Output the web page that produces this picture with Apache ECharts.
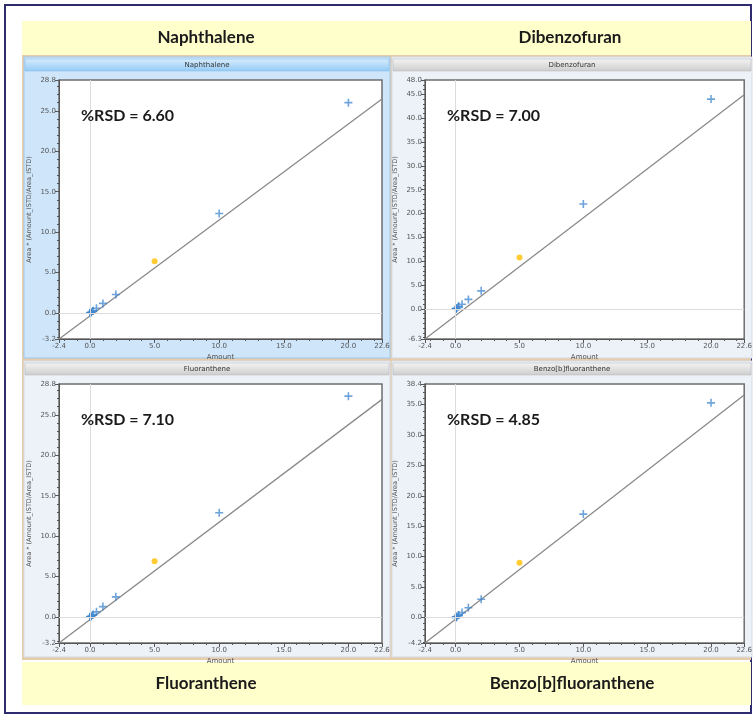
<!DOCTYPE html>
<html>
<head>
<meta charset="utf-8">
<title>Calibration curves</title>
<script src="https://cdn.jsdelivr.net/npm/echarts@6/dist/echarts.min.js"></script>
<style>
  html, body { margin: 0; padding: 0; background: #ffffff; }
  #chart { width: 755px; height: 718px; }
</style>
</head>
<body>
<div id="chart"></div>
<script>
// Compounds and their relative standard deviation of response factors
const compounds = ['Naphthalene', 'Dibenzofuran', 'Fluoranthene', 'Benzo[b]fluoranthene'];
const rsdValues = ['6.60', '7.00', '7.10', '4.85'];

// Calibration levels (amount) shared by all compounds
const calAmounts = [0.005, 0.01, 0.02, 0.05, 0.1, 0.2, 0.25, 0.5, 1, 2, 10, 20];

// Normalised responses: Area * (Amount_ISTD / Area_ISTD)
const naphthaleneResp = [0.006, 0.012, 0.025, 0.06, 0.12, 0.25, 0.3, 0.6, 1.2, 2.3, 12.3, 26.0];
const dibenzofuranResp = [0.01, 0.02, 0.05, 0.1, 0.2, 0.45, 0.55, 1.0, 2.0, 3.8, 22.0, 44.0];
const fluorantheneResp = [0.006, 0.012, 0.025, 0.06, 0.12, 0.25, 0.32, 0.65, 1.3, 2.5, 12.9, 27.3];
const benzoBFluorResp = [0.008, 0.016, 0.035, 0.08, 0.16, 0.35, 0.42, 0.8, 1.6, 3.0, 17.0, 35.3];

// Check standard at amount 5.0
const checkAmount = 5;
const checkResp = [6.4, 10.8, 6.9, 9.0];

// Fitted calibration lines as end points [amount, response]
const naphthaleneFit = [[-2.4, -3.2], [22.6, 26.45]];
const dibenzofuranFit = [[-2.4, -6.3], [22.6, 44.9]];
const fluorantheneFit = [[-2.4, -3.2], [22.6, 26.9]];
const benzoBFluorFit = [[-2.4, -4.2], [22.6, 36.6]];

// Axis ranges and tick labels
const xRange = [-2.4, 22.6];
const xTickLabels = [-2.4, 0, 5, 10, 15, 20, 22.6];
const yRanges = [[-3.2, 28.8], [-6.3, 48.0], [-3.2, 28.8], [-4.2, 38.4]];
const yTickLabels = [
  [-3.2, 0, 5, 10, 15, 20, 25, 28.8],
  [-6.3, 0, 5, 10, 15, 20, 25, 30, 35, 40, 45, 48.0],
  [-3.2, 0, 5, 10, 15, 20, 25, 28.8],
  [-4.2, 0, 5, 10, 15, 20, 25, 30, 35, 38.4]
];

const responses = [naphthaleneResp, dibenzofuranResp, fluorantheneResp, benzoBFluorResp];
const fits = [naphthaleneFit, dibenzofuranFit, fluorantheneFit, benzoBFluorFit];

// Panel geometry
const plotW = 323, plotH = 259;
const plotLeft = [59, 425, 59, 425];
const plotTop = [80, 80, 384, 384];
const panelX = [24, 392, 24, 392];
const panelY = [57, 57, 361, 361];
const panelW = [366, 360, 366, 360];
const panelH = [301, 301, 296, 296];

const chart = echarts.init(document.getElementById('chart'), null, { renderer: 'canvas' });

const plusPath = 'path://M4,0H6V4H10V6H6V10H4V6H0V4H4Z';
const fmt1 = v => Number(v).toFixed(1);

function integerSteps(a, b) {
  const out = [];
  for (let v = Math.ceil(a); v <= Math.floor(b); v++) out.push(v);
  return out;
}

const grids = [], xAxes = [], yAxes = [], series = [], graphics = [];

// outer frame and title bands
graphics.push(
  { type: 'rect', shape: { x: 5, y: 5, width: 746, height: 708 }, style: { fill: '#ffffff', stroke: '#2e2b6e', lineWidth: 2 }, z: -10 },
  { type: 'rect', shape: { x: 22, y: 21, width: 729, height: 34 }, style: { fill: '#ffffcc' }, z: -9 },
  { type: 'rect', shape: { x: 22, y: 662, width: 729, height: 43 }, style: { fill: '#ffffcc' }, z: -9 },
  { type: 'rect', shape: { x: 22, y: 55, width: 729, height: 605 }, style: { fill: '#e6ccaa' }, z: -9 }
);

const bandTitles = [
  { text: compounds[0], x: 206, y: 38 },
  { text: compounds[1], x: 570, y: 38 },
  { text: compounds[2], x: 206, y: 684 },
  { text: compounds[3], x: 572, y: 684 }
];
bandTitles.forEach(t => graphics.push({
  type: 'text', x: t.x, y: t.y, z: 5,
  style: { text: t.text, fill: '#1a1a1a', font: 'bold 17px Lato, "Open Sans", sans-serif', align: 'center', verticalAlign: 'middle' }
}));

for (let i = 0; i < 4; i++) {
  const selected = i === 0;
  // panel background
  graphics.push({
    type: 'rect', z: -8,
    shape: { x: panelX[i], y: panelY[i], width: panelW[i], height: panelH[i] },
    style: { fill: selected ? '#cfe6fa' : '#edf2f9', stroke: selected ? '#9cc9ef' : '#d5dbe3', lineWidth: 1 }
  });
  // panel header bar
  graphics.push({
    type: 'rect', z: -7,
    shape: { x: panelX[i] + 1, y: panelY[i] + 2, width: panelW[i] - 2, height: 12 },
    style: {
      fill: new echarts.graphic.LinearGradient(0, 0, 0, 1, selected
        ? [{ offset: 0, color: '#d8ecfd' }, { offset: 1, color: '#94cbf5' }]
        : [{ offset: 0, color: '#f4f4f4' }, { offset: 1, color: '#cdcdcd' }]),
      stroke: selected ? '#7fb7e6' : '#b5b5b5', lineWidth: 0.5
    }
  });
  graphics.push({
    type: 'text', z: -6, x: panelX[i] + panelW[i] / 2, y: panelY[i] + 8,
    style: { text: compounds[i], fill: '#333', font: '7px "DejaVu Sans", sans-serif', align: 'center', verticalAlign: 'middle' }
  });
  // %RSD annotation
  graphics.push({
    type: 'text', z: 10, x: plotLeft[i] + 22, y: plotTop[i] + 36,
    style: { text: '%RSD = ' + rsdValues[i], fill: '#1a1a1a', font: 'bold 16px Lato, "Open Sans", sans-serif', verticalAlign: 'middle' }
  });

  grids.push({
    left: plotLeft[i], top: plotTop[i], width: plotW, height: plotH,
    show: true, backgroundColor: '#ffffff', borderColor: '#6e6e6e', borderWidth: 1.5
  });

  const axisLabelStyle = { fontSize: 7, color: '#555', fontFamily: '"DejaVu Sans", sans-serif', formatter: fmt1 };

  // major x axis
  xAxes.push({
    type: 'value', gridIndex: i, min: xRange[0], max: xRange[1], position: 'bottom',
    name: 'Amount', nameLocation: 'middle', nameGap: 15,
    nameTextStyle: { fontSize: 7, color: '#555', fontFamily: '"DejaVu Sans", sans-serif' },
    axisLine: { show: true, onZero: false, lineStyle: { color: '#555', width: 1 } },
    axisTick: { show: true, inside: false, length: 4, customValues: xTickLabels, lineStyle: { color: '#555' } },
    axisLabel: Object.assign({ margin: 4, customValues: xTickLabels }, axisLabelStyle),
    splitLine: { show: false }
  });
  // minor x ticks
  xAxes.push({
    type: 'value', gridIndex: i, min: xRange[0], max: xRange[1], position: 'bottom',
    axisLine: { show: false, onZero: false },
    axisTick: { show: true, length: 2, customValues: integerSteps(xRange[0], xRange[1]), lineStyle: { color: '#555' } },
    axisLabel: { show: false }, splitLine: { show: false }
  });
  // major y axis
  yAxes.push({
    type: 'value', gridIndex: i, min: yRanges[i][0], max: yRanges[i][1], position: 'left',
    name: 'Area * (Amount_ISTD/Area_ISTD)', nameLocation: 'middle', nameGap: 26,
    nameTextStyle: { fontSize: 6.5, color: '#555', fontFamily: '"DejaVu Sans", sans-serif' },
    axisLine: { show: true, onZero: false, lineStyle: { color: '#555', width: 1 } },
    axisTick: { show: true, length: 4, customValues: yTickLabels[i], lineStyle: { color: '#555' } },
    axisLabel: Object.assign({ margin: 3, customValues: yTickLabels[i] }, axisLabelStyle),
    splitLine: { show: false }
  });
  // minor y ticks
  yAxes.push({
    type: 'value', gridIndex: i, min: yRanges[i][0], max: yRanges[i][1], position: 'left',
    axisLine: { show: false, onZero: false },
    axisTick: { show: true, length: 2, customValues: integerSteps(yRanges[i][0], yRanges[i][1]), lineStyle: { color: '#555' } },
    axisLabel: { show: false }, splitLine: { show: false }
  });

  const xi = i * 2, yi = i * 2;

  // fitted calibration line with zero reference lines
  series.push({
    type: 'line', xAxisIndex: xi, yAxisIndex: yi, data: fits[i],
    symbol: 'none', clip: true, silent: true, z: 3,
    lineStyle: { color: '#8a8a8a', width: 1.3 },
    markLine: {
      silent: true, symbol: 'none', label: { show: false },
      lineStyle: { color: '#dcdcdc', width: 1, type: 'solid' },
      data: [{ xAxis: 0 }, { yAxis: 0 }]
    }
  });
  // calibration points
  series.push({
    type: 'scatter', xAxisIndex: xi, yAxisIndex: yi, z: 4,
    data: calAmounts.map((a, k) => [a, responses[i][k]]),
    symbol: plusPath, symbolSize: 8,
    itemStyle: { color: '#3f86cf', opacity: 0.75 }
  });
  // check standard
  series.push({
    type: 'scatter', xAxisIndex: xi, yAxisIndex: yi, z: 5,
    data: [[checkAmount, checkResp[i]]],
    symbol: 'circle', symbolSize: 6,
    itemStyle: { color: '#ffc000' }
  });
}

chart.setOption({
  animation: false,
  backgroundColor: '#ffffff',
  grid: grids,
  xAxis: xAxes,
  yAxis: yAxes,
  series: series,
  graphic: graphics
});
</script>
</body>
</html>
